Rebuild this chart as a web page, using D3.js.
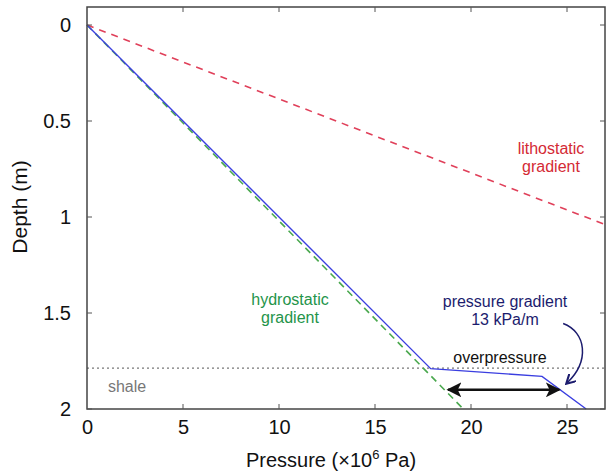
<!DOCTYPE html>
<html>
<head>
<meta charset="UTF-8">
<script src="https://d3js.org/d3.v7.min.js"></script>
<style>
  body { margin: 0; background: #fff; font-family: "Liberation Sans", Arial, sans-serif; }
</style>
</head>
<body>
<svg id="chart" width="606" height="473"></svg>
<script>
// data (pressure in 10^6 Pa, depth in m)
const lithostatic = [[0, 0], [27, 1.04]];
const hydrostatic = [[0, 0], [19.6, 2.0]];
const measured = [[0, 0], [17.9, 1.79], [23.7, 1.83], [26.0, 2.0]];
const overpressureDepth = 1.787;
const arrowSpan = [[18.8, 1.9], [24.6, 1.9]];
const xTicks = [0, 5, 10, 15, 20, 25];
const yTicks = [0, 0.5, 1, 1.5, 2];

const svg = d3.select("#chart");
const pLeft = 87, pRight = 605, pTop = 7, pBottom = 409;

const x = d3.scaleLinear().domain([0, 27]).range([pLeft, pLeft + 27 * 19.2]);
const y = d3.scaleLinear().domain([0, 2]).range([25, pBottom]);

const defs = svg.append("defs");
defs.append("marker").attr("id", "head").attr("viewBox", "0 0 10 10")
  .attr("refX", 9).attr("refY", 5).attr("markerWidth", 6).attr("markerHeight", 6)
  .attr("orient", "auto-start-reverse")
  .append("path").attr("d", "M0,0 L10,5 L0,10 L2.5,5 Z").attr("fill", "#111");
defs.append("marker").attr("id", "navyhead").attr("viewBox", "0 0 10 10")
  .attr("refX", 8).attr("refY", 5).attr("markerWidth", 7).attr("markerHeight", 7)
  .attr("orient", "auto")
  .append("path").attr("d", "M0,0 L9,5 L0,10").attr("fill", "none")
  .attr("stroke", "#1c1c6e").attr("stroke-width", 2);

const line = d3.line().x(d => x(d[0])).y(d => y(d[1]));

// overpressure boundary
svg.append("line")
  .attr("x1", pLeft).attr("x2", pRight)
  .attr("y1", y(overpressureDepth)).attr("y2", y(overpressureDepth))
  .attr("stroke", "#555").attr("stroke-width", 1).attr("stroke-dasharray", "2,3");

svg.append("path").datum(lithostatic).attr("d", line)
  .attr("fill", "none").attr("stroke", "#e0405a").attr("stroke-width", 1.6)
  .attr("stroke-dasharray", "7,6");

svg.append("path").datum(hydrostatic).attr("d", line)
  .attr("fill", "none").attr("stroke", "#4aa84e").attr("stroke-width", 1.6)
  .attr("stroke-dasharray", "7,5");

svg.append("path").datum(measured).attr("d", line)
  .attr("fill", "none").attr("stroke", "#3a3ee0").attr("stroke-width", 1.4);

// double arrow
svg.append("path").datum(arrowSpan).attr("d", line)
  .attr("fill", "none").attr("stroke", "#111").attr("stroke-width", 2.5)
  .attr("marker-start", "url(#head)").attr("marker-end", "url(#head)");

// curved pointer
svg.append("path")
  .attr("d", `M${x(24.8)},${y(1.555)} C${x(26.0)},${y(1.6)} ${x(26.2)},${y(1.75)} ${x(25.0)},${y(1.865)}`)
  .attr("fill", "none").attr("stroke", "#1c1c6e").attr("stroke-width", 1.5)
  .attr("marker-end", "url(#navyhead)");

// frame
svg.append("rect").attr("x", pLeft).attr("y", pTop)
  .attr("width", pRight - pLeft).attr("height", pBottom - pTop)
  .attr("fill", "none").attr("stroke", "#444").attr("stroke-width", 1.5);

// axes
const xAxis = d3.axisBottom(x).tickValues(xTicks).tickSize(0).tickPadding(11);
const gx = svg.append("g").attr("transform", `translate(0,${pBottom})`).call(xAxis);
gx.select(".domain").remove();
gx.selectAll("text").attr("font-size", 20).attr("font-family", "Liberation Sans, Arial").attr("fill", "#111");

const yAxis = d3.axisLeft(y).tickValues(yTicks).tickFormat(d => String(d)).tickSize(0).tickPadding(16);
const gy = svg.append("g").attr("transform", `translate(${pLeft},0)`).call(yAxis);
gy.select(".domain").remove();
gy.selectAll("text").attr("font-size", 20).attr("font-family", "Liberation Sans, Arial").attr("fill", "#111");

// inward ticks on all four sides
const tk = 5;
svg.append("g").selectAll("line").data(xTicks.filter(d => d > 0)).join("line")
  .attr("x1", d => x(d)).attr("x2", d => x(d)).attr("y1", pBottom).attr("y2", pBottom - tk)
  .attr("stroke", "#555");
svg.append("g").selectAll("line").data(xTicks.filter(d => d > 0)).join("line")
  .attr("x1", d => x(d)).attr("x2", d => x(d)).attr("y1", pTop).attr("y2", pTop + tk)
  .attr("stroke", "#555");
svg.append("g").selectAll("line").data(yTicks).join("line")
  .attr("x1", pLeft).attr("x2", pLeft + tk).attr("y1", d => y(d)).attr("y2", d => y(d))
  .attr("stroke", "#555");
svg.append("g").selectAll("line").data(yTicks).join("line")
  .attr("x1", pRight).attr("x2", pRight - tk).attr("y1", d => y(d)).attr("y2", d => y(d))
  .attr("stroke", "#555");

// axis titles
svg.append("text").attr("x", 331).attr("y", 467).attr("text-anchor", "middle")
  .attr("font-size", 20).attr("fill", "#111")
  .html("Pressure (×10<tspan dy='-8' font-size='13'>6</tspan><tspan dy='8'> Pa)</tspan>");
svg.append("text").attr("transform", "translate(27,207) rotate(-90)").attr("text-anchor", "middle")
  .attr("font-size", 21).attr("fill", "#111").text("Depth (m)");

// annotations
function label(lines, cx, cy, color, size) {
  const t = svg.append("text").attr("text-anchor", "middle").attr("font-size", size).attr("fill", color);
  lines.forEach((s, i) => t.append("tspan").attr("x", cx).attr("y", cy + i * 18).text(s));
}
label(["lithostatic", "gradient"], 551, 154, "#d42a35", 16);
label(["hydrostatic", "gradient"], 290, 305, "#24944a", 16);
label(["pressure gradient", "13 kPa/m"], 505, 307, "#1c1c6e", 16);
label(["overpressure"], 500, 363, "#111", 16);
label(["shale"], 127, 392, "#777", 16);
</script>
</body>
</html>
